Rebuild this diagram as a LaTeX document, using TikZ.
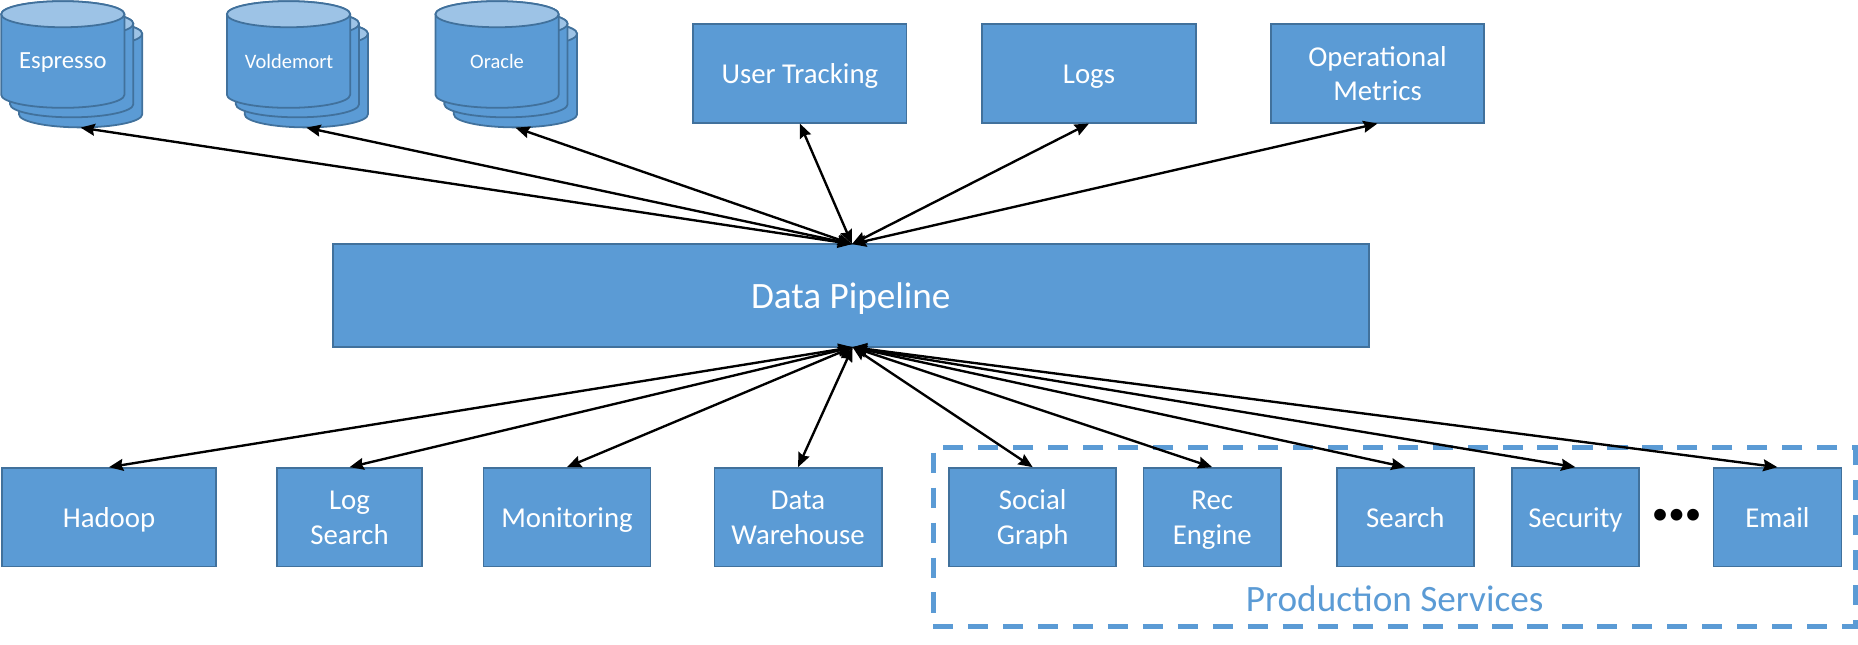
\documentclass[tikz,border=0pt]{standalone}
\usepackage{fontspec}
\setmainfont{Carlito}
\usetikzlibrary{arrows.meta}
\definecolor{myblue}{HTML}{5B9BD5}
\definecolor{myedge}{HTML}{41719C}
\definecolor{mylight}{HTML}{9DC3E6}
\newcommand{\boxstrut}{\rule[-.257em]{0pt}{1.193em}}
\tikzset{
	databox/.style={rectangle,draw=myedge,fill=myblue,line width=1.5pt,text=white,align=center,inner sep=0pt,minimum height=83pt,font=\fontsize{24.3}{29}\selectfont},
	diskline/.style={draw=myedge,line width=1.5pt},
	diskspot/.style={rectangle,inner sep=0pt,minimum width=104pt,minimum height=90pt},
	disklabel/.style={text=white,inner sep=0pt},
	link/.style={<->,line width=2pt},
}
% One disk of a stack: name, x, y
\newcommand{\dbdisk}[3]{
	\draw[diskline,fill=myblue] (#2,#3) ++(-52,-34) -- ++(0,68) arc[start angle=180,end angle=360,x radius=52pt,y radius=11pt] -- ++(0,-68) arc[start angle=0,end angle=180,x radius=52pt,y radius=11pt] -- cycle;
	\draw[diskline,fill=mylight] (#2,#3) ++(0,-34) ellipse[x radius=52pt,y radius=11pt];
	\node[diskspot] (#1) at (#2,#3) {};
}
\begin{document}
\begin{tikzpicture}[>={Stealth[length=12pt,width=10pt,inset=1.5pt]}, x=1pt, y=-1pt]
			\useasboundingbox (0,0) rectangle (1568,543.5);

			% Draw the box around the production services
			\node[draw=myblue,line width=4.2pt,dash pattern=on 17pt off 12.5pt,rectangle,inner sep=0pt,minimum width=778pt,minimum height=151pt] (prodbox) at (1176.5,453.5) {};
			\node[text=myblue,inner sep=0pt,font=\fontsize{31.4}{36}\selectfont] (prodlabel) at (1177,505) {Production Services};

			% Draw the database stacks
			\dbdisk{espressoc}{68}{62.5}
			\dbdisk{espressob}{60.5}{54}
			\dbdisk{espresso}{53}{46}
			\node[disklabel,font=\fontsize{20.8}{25}\selectfont] (espressolabel) at (53,51) {\boxstrut Espresso};
			\dbdisk{voldemortc}{258.5}{62.5}
			\dbdisk{voldemortb}{251}{54}
			\dbdisk{voldemort}{243.5}{46}
			\node[disklabel,font=\fontsize{17.3}{21}\selectfont] (voldemortlabel) at (244,52) {\boxstrut Voldemort};
			\dbdisk{oraclec}{435}{62.5}
			\dbdisk{oracleb}{427}{54}
			\dbdisk{oracle}{419.5}{46}
			\node[disklabel,font=\fontsize{17.3}{21}\selectfont] (oraclelabel) at (419.5,52) {\boxstrut Oracle};

			% Draw the upper boxes
			\node[databox,minimum width=180pt] (usertracking) at (675,62) {\boxstrut User Tracking};
			\node[databox,minimum width=180pt] (logs) at (919,62) {\boxstrut Logs};
			\node[databox,minimum width=180pt] (opmetrics) at (1162.5,62) {\boxstrut Operational\\Metrics\boxstrut};

			% Draw the pipeline
			\node[databox,minimum width=874pt,minimum height=87pt,font=\fontsize{31.4}{36}\selectfont] (pipeline) at (718,249.5) {\boxstrut Data Pipeline};
			\coordinate (pipetop) at (719,206);
			\coordinate (pipebot) at (719.5,293);

			% Draw the lower boxes
			\node[databox,minimum width=180pt] (hadoop) at (92,436.5) {\boxstrut Hadoop};
			\node[databox,minimum width=122pt] (logsearch) at (295,436.5) {\boxstrut Log\\Search\boxstrut};
			\node[databox,minimum width=141pt] (monitoring) at (478.5,436.5) {\boxstrut Monitoring};
			\node[databox,minimum width=141pt] (warehouse) at (673.5,436.5) {\boxstrut Data\\Warehouse\boxstrut};
			\node[databox,minimum width=141pt] (socialgraph) at (871.5,436.5) {\boxstrut Social\\Graph\boxstrut};
			\node[databox,minimum width=116pt] (recengine) at (1023,436.5) {\boxstrut Rec\\Engine\boxstrut};
			\node[databox,minimum width=116pt] (search) at (1186,436.5) {\boxstrut Search};
			\node[databox,minimum width=107pt] (security) at (1329.5,436.5) {\boxstrut Security};
			\node[text=black,inner sep=0pt,font=\fontsize{28}{32}\selectfont] (moredots) at (1415,436) {\textbullet\textbullet\textbullet};
			\node[databox,minimum width=108pt] (email) at (1500,436.5) {\boxstrut Email};

			% Draw the links above the pipeline
			\draw[link] (espressoc.south) -- (pipetop);
			\draw[link] (voldemortc.south) -- (pipetop);
			\draw[link] (oraclec.south) -- (pipetop);
			\draw[link] (usertracking.south) -- (pipetop);
			\draw[link] (logs.south) -- (pipetop);
			\draw[link] (opmetrics.south) -- (pipetop);

			% Draw the links below the pipeline
			\draw[link] (hadoop.north) -- (pipebot);
			\draw[link] (logsearch.north) -- (pipebot);
			\draw[link] (monitoring.north) -- (pipebot);
			\draw[link] (warehouse.north) -- (pipebot);
			\draw[link] (socialgraph.north) -- (pipebot);
			\draw[link] (recengine.north) -- (pipebot);
			\draw[link] (search.north) -- (pipebot);
			\draw[link] (security.north) -- (pipebot);
			\draw[link] (email.north) -- (pipebot);
		\end{tikzpicture}
\end{document}
